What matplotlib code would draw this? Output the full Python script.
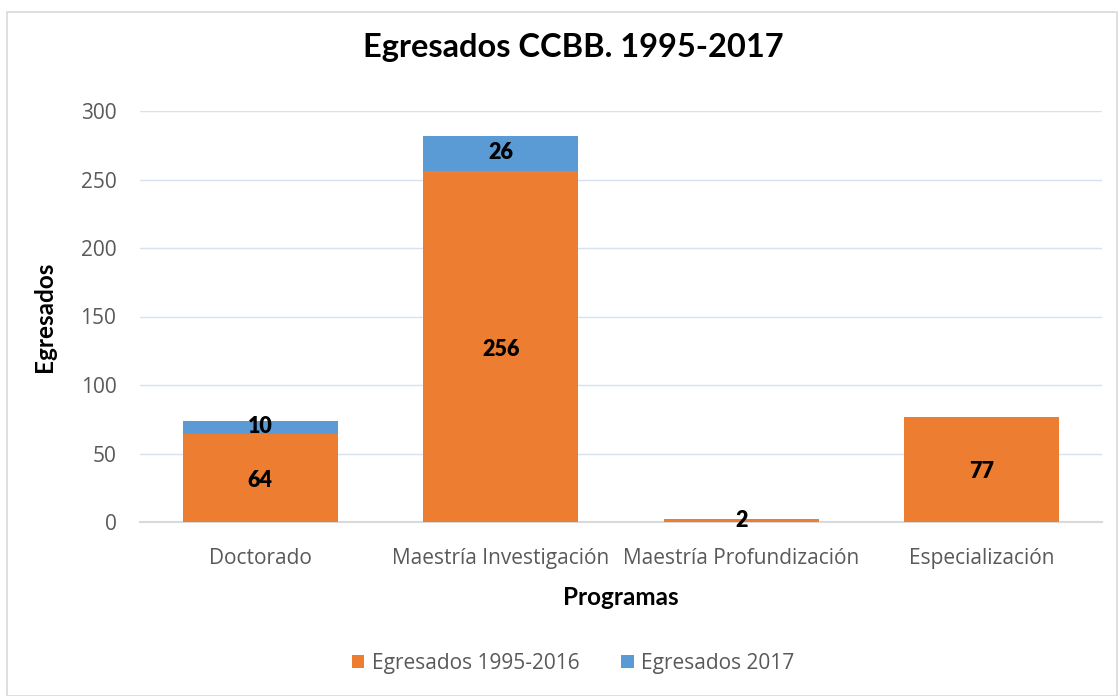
import matplotlib
matplotlib.use("Agg")
import matplotlib.pyplot as plt
from matplotlib.patches import Rectangle

categories = ["Doctorado", "Maestría Investigación", "Maestría Profundización", "Especialización"]
egresados_1995_2016 = [64, 256, 2, 77]
egresados_2017 = [10, 26, 0, 0]
series_names = ["Egresados 1995-2016", "Egresados 2017"]
yticks = [0, 50, 100, 150, 200, 250, 300]

orange = "#ED7D31"
blue = "#5B9BD5"
gray_text = "#595959"
tick_font = 'Open Sans'
bold_font = ['Lato', 'DejaVu Sans']

plt.rcParams['font.family'] = bold_font

fig = plt.figure(figsize=(11.18, 6.96), dpi=100)
fig.patches.append(Rectangle((7/1118, 0), 1 - 7/1118 - 0.001, 1 - 12/696, transform=fig.transFigure,
                             fill=False, edgecolor="#D9D9D9", linewidth=1.2))
ax = fig.add_axes([140/1118, 1 - 522/696, 962/1118, 411/696])

x = list(range(len(categories)))
w = 0.645
b1 = ax.bar(x, egresados_1995_2016, width=w, color=orange, label=series_names[0], zorder=3)
b2 = ax.bar(x, egresados_2017, width=w, bottom=egresados_1995_2016, color=blue, label=series_names[1], zorder=3)

for i in x:
    v1 = egresados_1995_2016[i]
    ax.text(i, v1 / 2 - 2 if v1 > 5 else v1 / 2, str(v1), ha="center", va="center",
            fontsize=15.5, fontweight="heavy", color="black", zorder=4)
    v2 = egresados_2017[i]
    if v2:
        ax.text(i, v1 + v2 / 2 + 0.5, str(v2), ha="center", va="center",
                fontsize=15.5, fontweight="heavy", color="black", zorder=4)

ax.set_xlim(-0.5, 3.5)
ax.set_ylim(0, 300)
ax.set_yticks(yticks)
ax.grid(axis="y", color="#D6E2F0", linewidth=1, zorder=0)
for s in ["top", "right", "left"]:
    ax.spines[s].set_visible(False)
ax.spines["bottom"].set_color("#D9D9D9")
ax.spines["bottom"].set_linewidth(1.5)
ax.set_xticks(x)
ax.set_xticklabels(categories)
ax.tick_params(axis="both", length=0, colors=gray_text, labelsize=15, labelfontfamily=tick_font)
ax.tick_params(axis="x", pad=19)
ax.tick_params(axis="y", pad=17)

ax.set_xlabel("Programas", fontsize=17.5, fontweight="bold", color="black", labelpad=12)
ax.set_ylabel("Egresados", fontsize=17.5, fontweight="bold", color="black", labelpad=18)
fig.text(573/1118, 1 - 47/696, "Egresados CCBB. 1995-2017", ha="center", va="center",
         fontsize=23.5, fontweight="bold", color="black")

leg = fig.legend(handles=[b1, b2], labels=series_names, loc="center", bbox_to_anchor=(573/1118, 1 - 663/696),
                 ncol=2, frameon=False, prop={'family': tick_font, 'size': 15},
                 handlelength=0.6, handleheight=0.6, columnspacing=2.0, handletextpad=0.35)
for t in leg.get_texts():
    t.set_color(gray_text)

fig.savefig("out.png", dpi=100)
